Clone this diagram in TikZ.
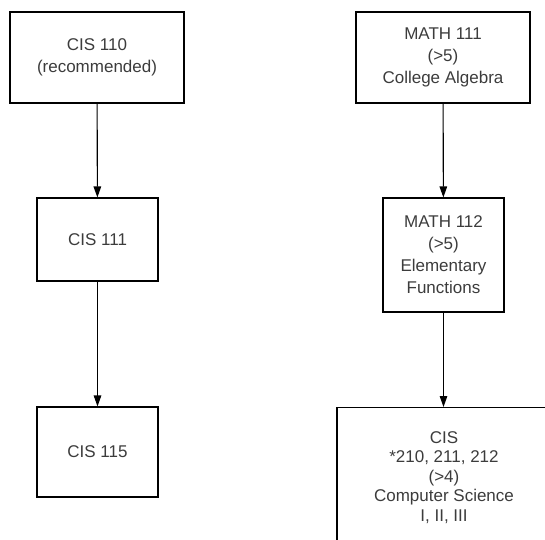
\documentclass[tikz,border=0pt]{standalone}
\usepackage{fontspec}
\setmainfont{Liberation Sans}
\usetikzlibrary{arrows.meta}
\definecolor{txt}{HTML}{3C3C3C}
\begin{document}
\begin{tikzpicture}[x=1pt,y=-1pt,
  box/.style={draw=black, line width=1.1pt, inner sep=0pt, align=center, text=txt,
    font=\fontsize{17}{22}\selectfont},
  link/.style={draw=black, line width=1.1pt, -{Triangle[length=11pt,width=7.5pt]}}]
\clip (0,0) rectangle (545,539);
\node[box, minimum width=174pt, minimum height=91pt] (a) at (97,57.5) {CIS 110\\(recommended)};
\node[box, minimum width=121pt, minimum height=83pt] (b) at (97.5,239.5) {CIS 111};
\node[box, minimum width=121pt, minimum height=90pt] (c) at (97.5,452) {CIS 115};
\node[box, minimum width=174pt, minimum height=91pt] (d) at (443,57.5) {MATH 111\\(>5)\\College Algebra};
\node[box, minimum width=121pt, minimum height=114pt] (e) at (443.5,255) {MATH 112\\(>5)\\Elementary\\Functions};
\node[box, minimum width=214pt, minimum height=140pt, anchor=north,
  font=\fontsize{17}{19.5}\selectfont] (f) at (444,407) {CIS\\*210, 211, 212\\(>4)\\Computer Science\\I, II, III};
\draw[link] (a) -- (b);
\draw[link] (b) -- (c);
\draw[link] (d) -- (e);
\draw[link] (e) -- (e |- f.north);
\end{tikzpicture}
\end{document}
